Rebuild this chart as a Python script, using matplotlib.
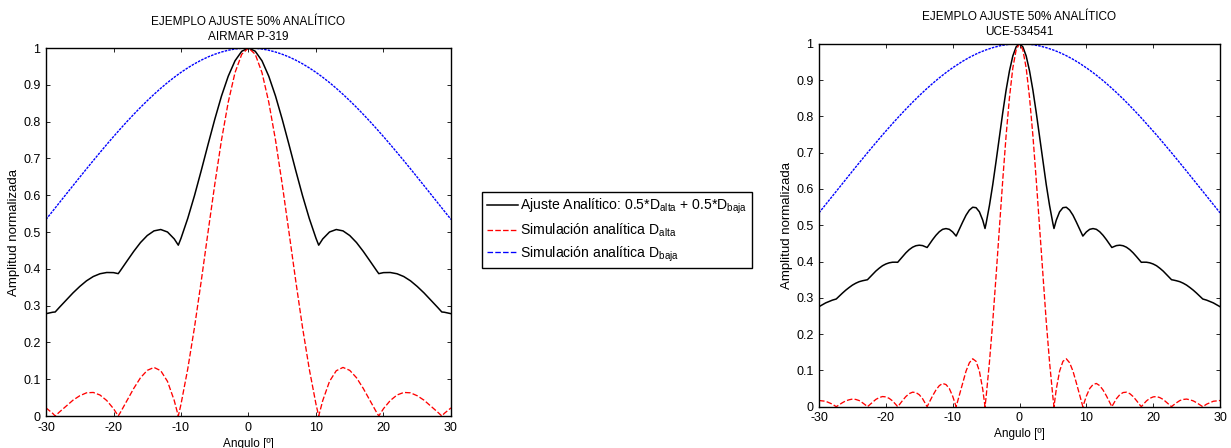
import matplotlib
matplotlib.use('Agg')
import matplotlib.pyplot as plt
from matplotlib.lines import Line2D
import numpy as np

plt.rcParams['font.family'] = ['Liberation Sans', 'DejaVu Sans']
plt.rcParams['mathtext.fontset'] = 'custom'
plt.rcParams['mathtext.rm'] = 'Liberation Sans'
plt.rcParams['mathtext.it'] = 'Liberation Sans:italic'
plt.rcParams['lines.scale_dashes'] = False
plt.rcParams['axes.unicode_minus'] = False

# beam patterns are symmetric, only 0..30 deg is listed (mirrored below)

# AIRMAR P-319
ang_airmar = [0, 1, 2, 3, 4, 5, 6, 7, 8, 9, 10, 10.4, 11, 12, 13, 14, 15, 16, 17,
              18, 19, 19.3, 20, 21, 22, 23, 24, 25, 26, 27, 28, 28.64, 29, 30]
alta_airmar = [1.0, 0.983, 0.933, 0.853, 0.750, 0.629, 0.499, 0.367, 0.241, 0.128,
               0.032, 0.0, 0.042, 0.094, 0.123, 0.132, 0.124, 0.104, 0.075, 0.042,
               0.009, 0.0, 0.020, 0.042, 0.057, 0.064, 0.063, 0.055, 0.043, 0.027,
               0.011, 0.0, 0.007, 0.022]
baja_airmar = [1.0, 0.9993, 0.9973, 0.9939, 0.9891, 0.9830, 0.9757, 0.9670, 0.9571,
               0.9460, 0.9338, 0.9285, 0.9204, 0.9060, 0.8905, 0.8741, 0.8568, 0.8387,
               0.8198, 0.8002, 0.7800, 0.7737, 0.7592, 0.7379, 0.7161, 0.6940, 0.6716,
               0.6489, 0.6260, 0.6031, 0.5801, 0.5653, 0.5570, 0.5341]

# UCE-534541
ang_uce = [0, 0.5, 1, 1.5, 2, 2.5, 3, 3.5, 4, 4.5, 5, 5.16, 5.5, 6, 6.5, 7, 7.5, 8,
           8.5, 9, 9.48, 10, 10.5, 11, 11.5, 12, 12.5, 13, 13.5, 13.82, 14, 14.5, 15,
           15.5, 16, 16.5, 17, 17.5, 18, 18.23, 18.5, 19, 19.5, 20, 20.5, 21, 21.5, 22,
           22.5, 22.75, 23, 23.5, 24, 24.5, 25, 25.5, 26, 26.5, 27, 27.42, 28, 28.5,
           29, 29.5, 30]
alta_uce = [1.0, 0.983, 0.933, 0.852, 0.748, 0.626, 0.495, 0.362, 0.235, 0.122,
            0.026, 0.0, 0.048, 0.098, 0.125, 0.132, 0.121, 0.098, 0.066, 0.032,
            0.0, 0.029, 0.050, 0.061, 0.064, 0.058, 0.046, 0.030, 0.012, 0.0,
            0.006, 0.022, 0.033, 0.039, 0.040, 0.036, 0.028, 0.017, 0.005, 0.0,
            0.006, 0.016, 0.023, 0.027, 0.028, 0.025, 0.020, 0.012, 0.004, 0.0,
            0.004, 0.011, 0.017, 0.020, 0.021, 0.019, 0.016, 0.011, 0.005, 0.0,
            0.007, 0.011, 0.015, 0.016, 0.017]
baja_uce = [1.0, 0.9998, 0.9993, 0.9984, 0.9973, 0.9957, 0.9939, 0.9916, 0.9891,
            0.9862, 0.9830, 0.9819, 0.9795, 0.9757, 0.9715, 0.9670, 0.9622, 0.9571,
            0.9517, 0.9460, 0.9401, 0.9338, 0.9272, 0.9204, 0.9133, 0.9060, 0.8984,
            0.8905, 0.8824, 0.8771, 0.8741, 0.8656, 0.8568, 0.8479, 0.8387, 0.8294,
            0.8198, 0.8101, 0.8002, 0.7955, 0.7902, 0.7800, 0.7697, 0.7592, 0.7487,
            0.7379, 0.7271, 0.7161, 0.7051, 0.6996, 0.6940, 0.6828, 0.6716, 0.6603,
            0.6489, 0.6375, 0.6260, 0.6146, 0.6031, 0.5934, 0.5801, 0.5686, 0.5570,
            0.5456, 0.5341]

RED_DASH = (0, (4, 1.6))
BLUE_DASH = (0, (1.8, 0.8))


def mirror(ang, vals):
    a = np.asarray(ang, dtype=float)
    v = np.asarray(vals, dtype=float)
    return np.concatenate([-a[:0:-1], a]), np.concatenate([v[:0:-1], v])


def panel(ax, ang, alta, baja, nombre):
    x, da = mirror(ang, alta)
    _, db = mirror(ang, baja)
    ajuste = 0.5 * da + 0.5 * db
    ax.plot(x, ajuste, color='k', lw=1.1)
    ax.plot(x, da, color='r', lw=0.95, ls=RED_DASH)
    ax.plot(x, db, color='b', lw=1.0, ls=BLUE_DASH)

    ax.set_xlim(-30, 30)
    ax.set_ylim(0, 1)
    ax.set_xticks(range(-30, 31, 10))
    yt = np.round(np.arange(0, 1.01, 0.1), 1)
    ax.set_yticks(yt)
    ax.set_yticklabels([f'{v:g}' for v in yt])
    ax.tick_params(direction='in', top=True, right=True, length=3, width=0.6,
                   labelsize=9, pad=4)
    for s in ax.spines.values():
        s.set_linewidth(1.0)
    ax.set_title('EJEMPLO AJUSTE 50% ANALÍTICO\n' + nombre, fontsize=8.5, pad=6,
                 linespacing=1.35)
    ax.set_xlabel('Angulo [º]', fontsize=8.5, labelpad=3)
    ax.set_ylabel('Amplitud normalizada', fontsize=9.5, labelpad=2)


fig = plt.figure(figsize=(12.31, 4.48), dpi=100)
ax1 = fig.add_axes([46 / 1231, 32 / 448, 405 / 1231, 368 / 448])
ax2 = fig.add_axes([819 / 1231, 41.3 / 448, 401 / 1231, 363 / 448])

panel(ax1, ang_airmar, alta_airmar, baja_airmar, 'AIRMAR P-319')
panel(ax2, ang_uce, alta_uce, baja_uce, 'UCE-534541')

handles = [
    Line2D([], [], color='k', lw=1.1),
    Line2D([], [], color='r', lw=0.95, ls=RED_DASH),
    Line2D([], [], color='b', lw=0.95, ls=RED_DASH),
]
labels = [
    r'Ajuste Analítico: 0.5*D$_{\mathrm{alta}}$ + 0.5*D$_{\mathrm{baja}}$',
    r'Simulación analítica D$_{\mathrm{alta}}$',
    r'Simulación analítica D$_{\mathrm{baja}}$',
]
leg = fig.legend(handles, labels, loc='upper left',
                 bbox_to_anchor=(482 / 1231, 1 - 192 / 448),
                 bbox_transform=fig.transFigure, borderaxespad=0,
                 fontsize=10.1, frameon=True, fancybox=False, framealpha=1,
                 handlelength=2.2, handletextpad=0.15, labelspacing=0.38,
                 borderpad=0.35)
leg.get_frame().set_edgecolor('k')
leg.get_frame().set_linewidth(1.0)

fig.savefig('out.png', dpi=100)
